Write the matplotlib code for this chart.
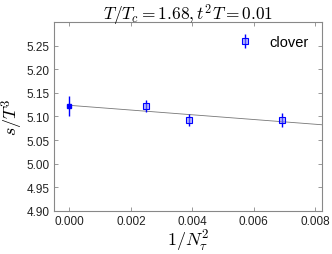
import matplotlib.pyplot as plt
import numpy as np

plt.rcParams['font.family'] = ['Liberation Sans', 'DejaVu Sans']
plt.rcParams['mathtext.fontset'] = 'cm'

# data
inv_nt2 = [0.0025, 0.0039, 0.00694]
s_t3 = [5.122, 5.092, 5.093]
s_err = [0.013, 0.013, 0.015]

cont_x = [0.0]
cont_y = [5.122]
cont_err = [0.022]

fit_a0 = 5.1235
fit_a1 = -5.0

fig = plt.figure(figsize=(3.32, 2.55), dpi=100)
ax = fig.add_axes([0.163, 0.169, 0.807, 0.741])

x = np.linspace(0, 0.0085, 50)
ax.plot(x, fit_a0 + fit_a1 * x, color='#777777', lw=0.6, zorder=1)

ax.errorbar(inv_nt2, s_t3, yerr=s_err, fmt='s', ms=3.8, color='blue',
            mfc=(0.5, 0.5, 1.0, 0.55), mec='blue', mew=0.8, elinewidth=1.0,
            capsize=0, label='clover', zorder=3)
ax.errorbar(cont_x, cont_y, yerr=cont_err, fmt='s', ms=3.5, color='blue',
            elinewidth=1.0, capsize=0, zorder=3)

ax.set_xlim(-0.0005, 0.00823)
ax.set_ylim(4.90, 5.30)
ax.set_xticks([0.0, 0.002, 0.004, 0.006, 0.008])
ax.set_yticks(np.arange(4.90, 5.26, 0.05))
ax.xaxis.set_major_formatter(plt.FormatStrFormatter('%.3f'))
ax.yaxis.set_major_formatter(plt.FormatStrFormatter('%.2f'))
ax.tick_params(direction='in', top=True, right=True, length=3, width=0.6,
               color='#888888', labelsize=8.5, labelcolor='#222222', pad=3)
for sp in ax.spines.values():
    sp.set_color('#888888')
    sp.set_linewidth(0.8)

ax.set_title(r'$T/T_c = 1.68, t^2T = 0.01$', fontsize=12.5, pad=2)
ax.set_xlabel(r'$1/N_\tau^2$', fontsize=13, labelpad=0)
ax.set_ylabel(r'$s/T^3$', fontsize=13, labelpad=1)

leg = ax.legend(loc='upper right', frameon=False, fontsize=10.5,
                handlelength=1.0, handletextpad=1.2, numpoints=1,
                borderaxespad=0.5)

fig.savefig('out.png', dpi=100)
